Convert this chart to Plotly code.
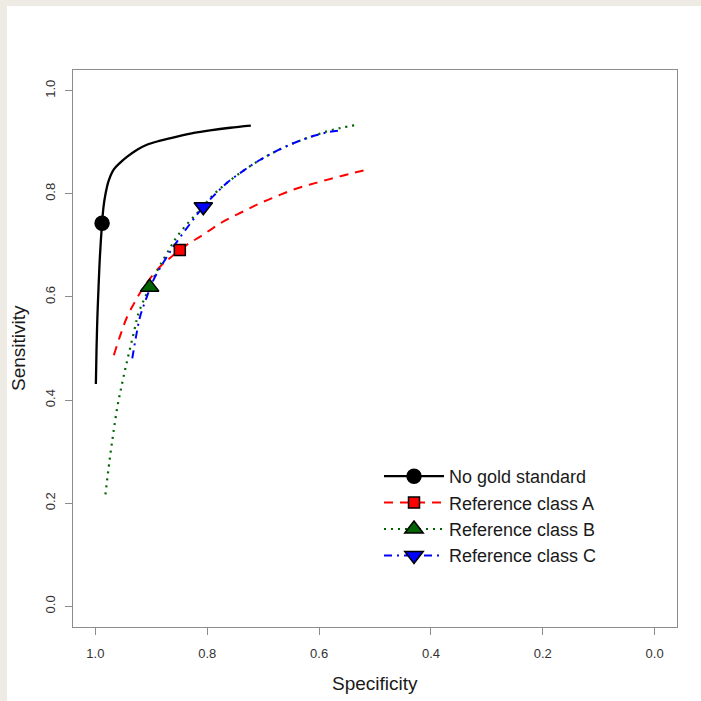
import plotly.graph_objects as go

# ---- SROC curves: (specificity, sensitivity) along each fitted curve ----
ngs_spec = [0.9991, 0.9979, 0.9964, 0.9943, 0.9918, 0.988, 0.9854, 0.9818, 0.9763,
            0.9673, 0.955, 0.943, 0.926, 0.908, 0.884, 0.854, 0.824, 0.795, 0.759, 0.722]
ngs_sens = [0.431, 0.500, 0.560, 0.620, 0.680, 0.743, 0.775, 0.800, 0.825,
            0.847, 0.861, 0.872, 0.885, 0.895, 0.903, 0.911, 0.918, 0.923, 0.928, 0.932]

a_spec = [0.967, 0.955, 0.943, 0.931, 0.920, 0.902, 0.884, 0.866, 0.849, 0.831,
          0.8125, 0.789, 0.765, 0.735, 0.705, 0.676, 0.646, 0.616, 0.586, 0.548, 0.509]
a_sens = [0.487, 0.527, 0.562, 0.587, 0.608, 0.636, 0.659, 0.676, 0.691, 0.705,
          0.717, 0.734, 0.750, 0.766, 0.782, 0.795, 0.808, 0.818, 0.827, 0.838, 0.848]

b_spec = [0.982, 0.975, 0.968, 0.961, 0.954, 0.947, 0.940, 0.931, 0.923, 0.913,
          0.903, 0.894, 0.884, 0.869, 0.854, 0.833, 0.8125, 0.790, 0.765, 0.735,
          0.705, 0.676, 0.646, 0.616, 0.586, 0.560, 0.536]
b_sens = [0.217, 0.280, 0.335, 0.385, 0.423, 0.458, 0.491, 0.532, 0.568, 0.595,
          0.619, 0.641, 0.662, 0.690, 0.717, 0.745, 0.769, 0.797, 0.821, 0.845,
          0.866, 0.883, 0.898, 0.910, 0.921, 0.928, 0.933]

c_spec = [0.934, 0.927, 0.920, 0.908, 0.896, 0.881, 0.866, 0.847, 0.827, 0.807,
          0.785, 0.765, 0.735, 0.705, 0.676, 0.646, 0.616, 0.586, 0.562]
c_sens = [0.481, 0.525, 0.562, 0.600, 0.633, 0.662, 0.688, 0.718, 0.747, 0.775,
          0.800, 0.821, 0.845, 0.866, 0.883, 0.898, 0.910, 0.919, 0.923]

# ---- Summary operating points ----
summary_names = ["No gold standard", "Reference class A",
                 "Reference class B", "Reference class C"]
summary_spec = [0.988, 0.849, 0.903, 0.807]
summary_sens = [0.743, 0.691, 0.619, 0.775]

tick_vals = [0.0, 0.2, 0.4, 0.6, 0.8, 1.0]
tick_text = ["0.0", "0.2", "0.4", "0.6", "0.8", "1.0"]

curves = [
    (ngs_spec, ngs_sens, "black", "solid", 2.3),
    (a_spec, a_sens, "#ff0000", "9px,7px", 2.0),
    (b_spec, b_sens, "#006400", "2px,5px", 2.2),
    (c_spec, c_sens, "#0000ff", "8px,5px,2px,5px", 2.0),
]
markers = [
    ("circle", "black", 14),
    ("square", "#ff0000", 11),
    ("triangle-up", "#006400", 16),
    ("triangle-down", "#0000ff", 16),
]

FONT = "Liberation Sans, Arial, Helvetica, sans-serif"

fig = go.Figure()

# curves
for (xs, ys, col, dash, w) in curves:
    fig.add_trace(go.Scatter(
        x=xs, y=ys, mode="lines",
        line=dict(color=col, dash=dash, width=w, shape="spline", smoothing=1.0),
        showlegend=False, hoverinfo="skip"))

# summary points
for i, (sym, col, size) in enumerate(markers):
    fig.add_trace(go.Scatter(
        x=[summary_spec[i]], y=[summary_sens[i]], mode="markers",
        marker=dict(symbol=sym, color=col, size=size,
                    line=dict(color="black", width=1.5)),
        showlegend=False, hoverinfo="skip"))

# legend keys
for i, name in enumerate(summary_names):
    xs, ys, col, dash, w = curves[i]
    sym, mcol, size = markers[i]
    fig.add_trace(go.Scatter(
        x=[None], y=[None], mode="lines+markers", name=name,
        line=dict(color=col, dash=dash, width=w),
        marker=dict(symbol=sym, color=mcol, size=size,
                    line=dict(color="black", width=1.5))))

# page geometry (pixels)
W, H = 701, 701
L, R, T, B = 73, 24, 70, 74
pw, ph = W - L - R, H - T - B


def px(xp):
    return (xp - L) / pw


def py(yp):
    return (H - B - yp) / ph


axis_common = dict(
    showgrid=False, zeroline=False,
    showline=True, mirror=True, linecolor="#8c8c8c", linewidth=1.3,
    ticks="outside", ticklen=7, tickwidth=1, tickcolor="#8c8c8c",
    tickvals=tick_vals, ticktext=tick_text,
    tickfont=dict(family=FONT, size=13, color="#333333"),
)

fig.update_layout(
    width=W, height=H,
    margin=dict(l=L, r=R, t=T, b=B, pad=0),
    paper_bgcolor="#eeebe4",
    plot_bgcolor="white",
    font=dict(family=FONT),
    xaxis=dict(range=[1.04, -0.04], ticklabelstandoff=7, **axis_common),
    yaxis=dict(range=[-0.04, 1.04], tickangle=-90, ticklabelstandoff=5,
               **axis_common),
    showlegend=True,
    legend=dict(
        x=px(379), y=py(458), xanchor="left", yanchor="top",
        bgcolor="rgba(0,0,0,0)", borderwidth=0,
        itemwidth=60, itemsizing="trace",
        font=dict(family=FONT, size=18, color="#1a1a1a"),
        tracegroupgap=0,
    ),
    shapes=[
        dict(type="rect", xref="paper", yref="paper", layer="below",
             x0=px(7), x1=px(W + 2), y0=py(6), y1=py(H + 2),
             fillcolor="white", line=dict(width=0)),
    ],
    annotations=[
        dict(text="Specificity", xref="paper", yref="paper",
             x=px(375), y=py(683), showarrow=False,
             xanchor="center", yanchor="middle",
             font=dict(family=FONT, size=19, color="#1a1a1a")),
        dict(text="Sensitivity", xref="paper", yref="paper",
             x=px(18), y=py(348), showarrow=False, textangle=-90,
             xanchor="center", yanchor="middle",
             font=dict(family=FONT, size=19, color="#1a1a1a")),
    ],
)

fig.write_html("out.html")
